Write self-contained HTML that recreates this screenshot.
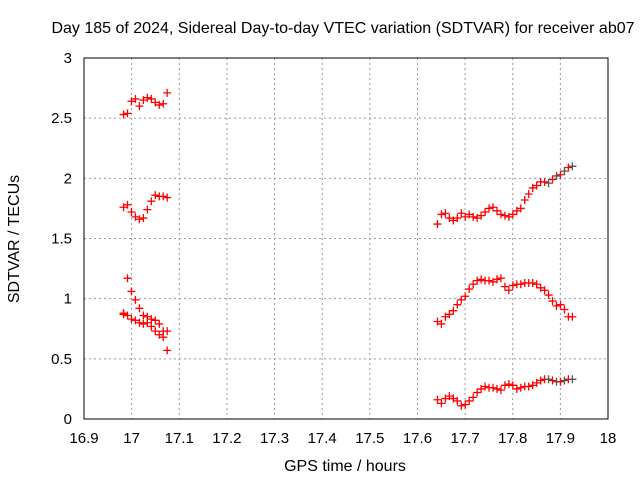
<!DOCTYPE html>
<html><head><meta charset="utf-8"><style>
body{margin:0;background:#fff;}
svg{display:block;font-family:"Liberation Sans",sans-serif;}
</style></head><body>
<svg id="c" width="640" height="480">
<text x="343" y="33" font-size="16" text-anchor="middle">Day 185 of 2024, Sidereal Day-to-day VTEC variation (SDTVAR) for receiver ab07</text>
<text x="345" y="471" font-size="16" text-anchor="middle">GPS time / hours</text>
<text x="0" y="0" font-size="16" text-anchor="middle" transform="translate(19,239) rotate(-90)">SDTVAR / TECUs</text>
<g id="grid"></g><g id="marks"></g>
<rect x="84" y="58" width="524" height="361" fill="none" stroke="#000"/>
</svg>
<script>
const xTicks=[16.9,17,17.1,17.2,17.3,17.4,17.5,17.6,17.7,17.8,17.9,18];
const xTickLabels=["16.9","17","17.1","17.2","17.3","17.4","17.5","17.6","17.7","17.8","17.9","18"];
const yTicks=[0,0.5,1,1.5,2,2.5,3];
const yTickLabels=["0","0.5","1","1.5","2","2.5","3"];
const g1Start=16.983, g2Start=17.642, step=0.00833;
const g1A=[2.53,2.54,2.64,2.66,2.60,2.65,2.67,2.66,2.63,2.61,2.62,2.71];
const g1B=[1.76,1.78,1.72,1.68,1.66,1.67,1.74,1.81,1.86,1.85,1.85,1.84];
const g1C=[0.88,0.86,0.83,0.82,0.80,0.79,0.85,0.83,0.82,0.79,0.73,0.73];
const g1D=[0.87,1.17,1.06,0.99,0.92,0.86,0.80,0.77,0.73,0.70,0.68,0.57];
const g2A=[1.62,1.70,1.71,1.67,1.65,1.67,1.71,1.68,1.70,1.68,1.67,1.69,1.72,1.75,1.76,1.73,1.70,1.69,1.68,1.70,1.73,1.75,1.82,1.87,1.92,1.94,1.97,1.97,1.96,1.99,2.02,2.03,2.06,2.09,2.10];
const g2B=[0.81,0.79,0.85,0.87,0.90,0.95,0.99,1.02,1.08,1.12,1.15,1.16,1.15,1.15,1.14,1.16,1.17,1.10,1.07,1.11,1.12,1.12,1.13,1.13,1.13,1.12,1.09,1.07,1.03,0.98,0.94,0.95,0.91,0.85,0.85];
const g2C=[0.16,0.13,0.17,0.19,0.17,0.15,0.11,0.12,0.15,0.18,0.22,0.25,0.27,0.26,0.26,0.25,0.24,0.28,0.29,0.28,0.25,0.26,0.27,0.27,0.28,0.30,0.32,0.33,0.33,0.32,0.31,0.31,0.32,0.33,0.33];
const NS="http://www.w3.org/2000/svg";
const X=v=>84+(v-16.9)/1.1*524, Y=v=>419-v/3*361;
const grid=document.getElementById('grid'), marks=document.getElementById('marks');
function mk(tag,attrs,parent){const e=document.createElementNS(NS,tag);for(const k in attrs)e.setAttribute(k,attrs[k]);parent.appendChild(e);return e;}
xTicks.forEach((t,i)=>{const x=X(t);
 if(i>0&&i<xTicks.length-1){const l=mk('line',{x1:x,x2:x,y1:58,y2:419,stroke:'#999','stroke-dasharray':'2,3'},grid);
 
 }
 const tx=mk('text',{x:x,y:443,'font-size':15,'text-anchor':'middle'},grid);tx.textContent=xTickLabels[i];
 
 });
yTicks.forEach((t,i)=>{const y=Y(t);
 if(i>0&&i<yTicks.length-1){const l=mk('line',{x1:84,x2:608,y1:y,y2:y,stroke:'#999','stroke-dasharray':'2,3'},grid);
 
 }
 const tx=mk('text',{x:72,y:y+5,'font-size':15,'text-anchor':'end'},grid);tx.textContent=yTickLabels[i];
 
 });
function series(vals,start,name){vals.forEach((v,i)=>{const x=X(start+i*step),y=Y(v);
 const col=(name.startsWith('g2')&&i>=28&&i%2==0&&name!=='g2-b')?'#555':'#f00';
 const p=mk('path',{d:`M${x-4},${y}h8M${x},${y-4}v8`,stroke:col,'stroke-width':1.3,fill:'none'},marks);
 
 });}
series(g1A,g1Start,'g1-a');series(g1B,g1Start,'g1-b');series(g1C,g1Start,'g1-c');series(g1D,g1Start,'g1-d');
series(g2A,g2Start,'g2-a');series(g2B,g2Start,'g2-b');series(g2C,g2Start,'g2-c');
</script>
</body></html>
